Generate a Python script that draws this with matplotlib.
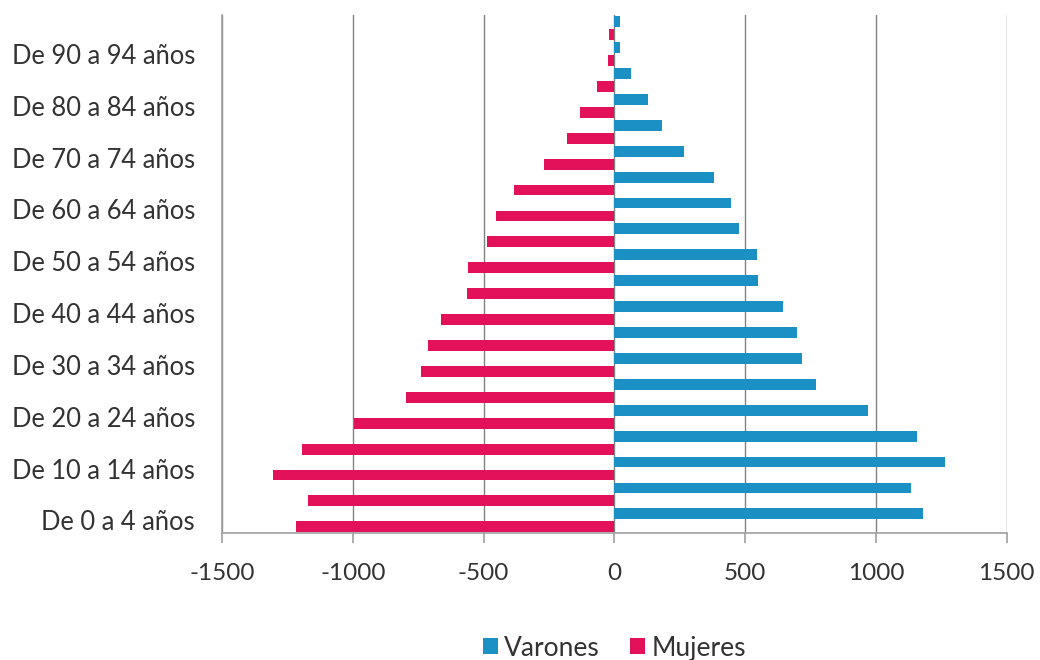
import numpy as np
import matplotlib
matplotlib.use("Agg")
import matplotlib.pyplot as plt

# grupos de edad (de 5 en 5 años)
edades = ["De 0 a 4 años", "De 5 a 9 años", "De 10 a 14 años", "De 15 a 19 años",
          "De 20 a 24 años", "De 25 a 29 años", "De 30 a 34 años", "De 35 a 39 años",
          "De 40 a 44 años", "De 45 a 49 años", "De 50 a 54 años", "De 55 a 59 años",
          "De 60 a 64 años", "De 65 a 69 años", "De 70 a 74 años", "De 75 a 79 años",
          "De 80 a 84 años", "De 85 a 89 años", "De 90 a 94 años", "De 95 a 99 años"]

varones = [1180, 1134, 1264, 1156, 970, 772, 719, 697, 646, 550,
           547, 476, 445, 379, 267, 181, 130, 65, 20, 20]
mujeres = [-1216, -1172, -1306, -1196, -996, -796, -740, -712, -661, -562,
           -560, -486, -454, -385, -270, -180, -130, -65, -25, -20]

xticks = [-1500, -1000, -500, 0, 500, 1000, 1500]

azul = "#1b90c4"
rosa = "#e3105a"

plt.rcParams['font.family'] = ['Lato', 'DejaVu Sans']

fig = plt.figure(figsize=(10.4, 6.6), dpi=100)
ax = fig.add_axes([0.2135, 0.192, 0.7545, 0.785])

y = np.arange(len(edades))
h = 0.42
ax.barh(y + 0.25, varones, height=h, color=azul, label="Varones", zorder=3)
ax.barh(y - 0.25, mujeres, height=h, color=rosa, label="Mujeres", zorder=3)

ax.set_xlim(-1500, 1500)
ax.set_ylim(-0.5, len(edades) - 0.5)
ax.set_xticks(xticks)
ax.set_xticklabels([str(t) for t in xticks])
ax.set_yticks(y[::2])
ax.set_yticklabels(edades[::2])

ax.xaxis.grid(True, color="#808080", linewidth=1.0, zorder=0)
for s in ["top", "right"]:
    ax.spines[s].set_visible(False)
ax.spines["left"].set_color("#a0a0a0")
ax.spines["bottom"].set_color("#a0a0a0")
ax.spines["left"].set_linewidth(1.2)
ax.spines["bottom"].set_linewidth(1.2)

ax.tick_params(axis="x", length=7, color="#a0a0a0", width=1.2, pad=14.5,
               labelsize=17.5, labelcolor="#333333")
ax.tick_params(axis="y", length=0, pad=19.4, labelsize=18.4, labelcolor="#333333")

fig.legend(loc="center", bbox_to_anchor=(0.591, 0.018), ncol=2, frameon=False,
           fontsize=19, handlelength=0.57, handleheight=0.57, handletextpad=0.25,
           columnspacing=1.15, labelcolor="#333333")

fig.savefig("out.png", dpi=100)
